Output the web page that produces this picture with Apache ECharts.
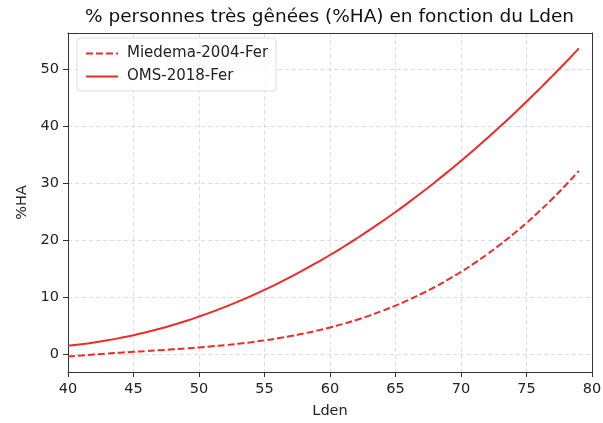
<!DOCTYPE html>
<html><head><meta charset="utf-8">
<script src="https://cdn.jsdelivr.net/npm/echarts@6/dist/echarts.min.js"></script>
<style>html,body{margin:0;padding:0;background:#fff}#c{width:603px;height:423px}</style>
</head><body><div id="c"></div>
<script>
var lden = [40,41,42,43,44,45,46,47,48,49,50,51,52,53,54,55,56,57,58,59,60,61,62,63,64,65,66,67,68,69,70,71,72,73,74,75,76,77,78,79];
var miedema = [-0.38,-0.18,0,0.16,0.31,0.46,0.60,0.74,0.89,1.05,1.22,1.42,1.63,1.88,2.15,2.47,2.82,3.22,3.67,4.17,4.73,5.35,6.04,6.80,7.64,8.55,9.55,10.64,11.82,13.10,14.48,15.97,17.57,19.28,21.11,23.06,25.14,27.35,29.70,32.19];
var oms = [1.54,1.80,2.11,2.47,2.90,3.38,3.92,4.51,5.16,5.87,6.64,7.46,8.34,9.28,10.27,11.32,12.43,13.60,14.82,16.10,17.43,18.83,20.28,21.78,23.35,24.97,26.65,28.38,30.17,32.02,33.93,35.89,37.91,39.99,42.12,44.31,46.56,48.87,51.23,53.65];
var seriesNames = ['Miedema-2004-Fer','OMS-2018-Fer'];
var titleText = '% personnes très gênées (%HA) en fonction du Lden';

function pairs(ys){ return lden.map(function(x,i){ return [x, ys[i]]; }); }
var font = 'DejaVu Sans';
var lineColor = '#ee2a2a';
var chart = echarts.init(document.getElementById('c'), null, {renderer:'canvas'});
chart.setOption({
  animation: false,
  backgroundColor: '#fff',
  textStyle: {fontFamily: font},
  title: {text: titleText, left: 80, top: 3,
    textStyle: {fontFamily: font, fontSize: 18.5, fontWeight: 'normal', color: '#111'}},
  grid: {left: 68, right: 11, top: 33, bottom: 51, show: false, containLabel: false, outerBoundsMode: 'none'},
  legend: {
    orient: 'vertical', left: 77, top: 38, padding: [8, 8, 7, 8], itemGap: 8,
    itemWidth: 32, itemHeight: 14,
    itemStyle: {opacity: 0},
    borderColor: '#ddd', borderWidth: 1, borderRadius: 3, backgroundColor: 'rgba(255,255,255,0.85)',
    textStyle: {fontFamily: font, fontSize: 15, color: '#222', padding: [0, 0, 0, 4]},
    data: seriesNames
  },
  xAxis: [{
    type: 'value', min: 40, max: 80, interval: 5,
    name: 'Lden', nameLocation: 'middle', nameGap: 32,
    nameTextStyle: {fontFamily: font, fontSize: 14.5, color: '#222'},
    axisLine: {show: true, onZero: false, lineStyle: {color: '#333'}},
    axisTick: {show: true, inside: false, length: 5, lineStyle: {color: '#333'}},
    axisLabel: {fontFamily: font, fontSize: 14.5, color: '#222', margin: 10},
    splitLine: {show: true, lineStyle: {color: '#ddd', type: [4, 3]}}
  }, {
    type: 'value', min: 40, max: 80, position: 'top',
    axisLine: {show: true, onZero: false, lineStyle: {color: '#333'}},
    axisTick: {show: false}, axisLabel: {show: false}, splitLine: {show: false}
  }],
  yAxis: [{
    type: 'value', min: -3.08, max: 56.35, splitNumber: 5,
    name: '%HA', nameLocation: 'middle', nameGap: 38, nameRotate: 90,
    nameTextStyle: {fontFamily: font, fontSize: 14.5, color: '#222'},
    axisLine: {show: true, onZero: false, lineStyle: {color: '#333'}},
    axisTick: {show: true, inside: false, length: 5, lineStyle: {color: '#333'}},
    axisLabel: {fontFamily: font, fontSize: 14.5, color: '#222', margin: 9, showMinLabel: false, showMaxLabel: false},
    splitLine: {show: true, lineStyle: {color: '#ddd', type: [4, 3]}}
  }, {
    type: 'value', min: -3.08, max: 56.35, position: 'right',
    axisLine: {show: true, onZero: false, lineStyle: {color: '#333'}},
    axisTick: {show: false}, axisLabel: {show: false}, splitLine: {show: false}
  }],
  series: [
    {name: seriesNames[0], type: 'line', data: pairs(miedema), symbol: 'none', smooth: true,
      lineStyle: {color: lineColor, width: 2, type: [7, 3]}, itemStyle: {color: lineColor}},
    {name: seriesNames[1], type: 'line', data: pairs(oms), symbol: 'none', smooth: true,
      lineStyle: {color: lineColor, width: 2, type: 'solid'}, itemStyle: {color: lineColor}}
  ]
});
</script></body></html>
